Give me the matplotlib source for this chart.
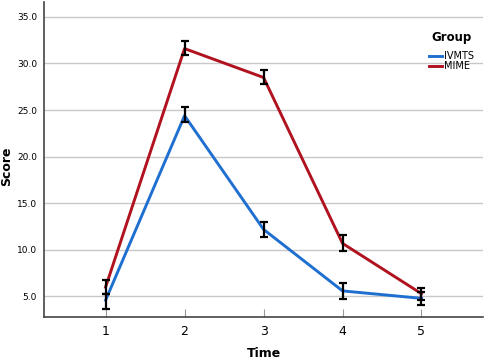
import numpy as np
import matplotlib.pyplot as plt

# Mean scores per time point with 95% CI bounds
time = [1, 2, 3, 4, 5]
groups = ['IVMTS', 'MIME']
ivmts_mean = [4.6, 24.4, 12.2, 5.6, 4.8]
ivmts_low = [3.65, 23.7, 11.4, 4.75, 4.1]
ivmts_high = [5.3, 25.3, 13.0, 6.4, 5.5]
mime_mean = [6.0, 31.6, 28.5, 10.7, 5.3]
mime_low = [5.3, 30.9, 27.8, 9.9, 4.6]
mime_high = [6.8, 32.4, 29.3, 11.6, 5.9]
colors = ['#1F6FD1', '#B0121F']

fig = plt.figure(figsize=(4.86, 3.61), dpi=100)
ax = fig.add_axes([0.0905, 0.1219, 0.9035, 0.8726])

series = [(ivmts_mean, ivmts_low, ivmts_high), (mime_mean, mime_low, mime_high)]
for name, col, (m, lo, hi) in zip(groups, colors, series):
    m = np.array(m)
    err = [m - np.array(lo), np.array(hi) - m]
    ax.plot(time, m, color=col, lw=2.1, label=name, zorder=3)
    ax.errorbar(time, m, yerr=err, fmt='none', ecolor='black', elinewidth=1.6,
                capsize=3.2, capthick=1.6, zorder=4)

ax.set_xlim(0.22, 5.78)
ax.set_ylim(2.8, 36.6)
ax.set_xticks(time)
ax.set_yticks([5, 10, 15, 20, 25, 30, 35])
ax.set_yticklabels(['%.1f' % v for v in [5, 10, 15, 20, 25, 30, 35]], fontsize=6.5)
ax.tick_params(axis='x', direction='in', length=6, color='#999999', labelsize=9, pad=6)
ax.tick_params(axis='y', length=0, pad=5)
ax.grid(axis='y', color='#C8C8C8', lw=1.0)
ax.set_axisbelow(True)
for s in ['top', 'right']:
    ax.spines[s].set_visible(False)
for s in ['left', 'bottom']:
    ax.spines[s].set_color('#444444')
    ax.spines[s].set_linewidth(1.2)

ax.set_xlabel('Time', fontsize=9, fontweight='bold', labelpad=6)
ax.set_ylabel('Score', fontsize=9, fontweight='bold')
ax.yaxis.set_label_coords(-0.07, 0.48)

leg = ax.legend(title='Group', loc='upper right', bbox_to_anchor=(1.0, 0.935),
                frameon=False, fontsize=7, handlelength=1.3, handletextpad=0.25,
                labelspacing=0.0)
leg.get_title().set_fontweight('bold')
leg.get_title().set_fontsize(8.5)
leg._legend_box.sep = 5

fig.savefig('out.png', dpi=100)
